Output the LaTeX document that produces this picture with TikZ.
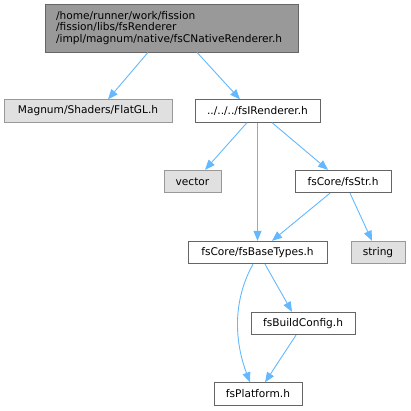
\documentclass[tikz,border=0pt]{standalone}
\usepackage{fontspec}
\setmainfont{DejaVu Sans}
\usetikzlibrary{arrows.meta}
\definecolor{edgec}{HTML}{63B8FF}
\definecolor{topfill}{HTML}{999999}
\definecolor{darkb}{HTML}{666666}
\definecolor{grayfill}{HTML}{E0E0E0}
\definecolor{grayb}{HTML}{999999}
\tikzset{
  box/.style={draw=darkb, fill=white, line width=0.8pt, inner sep=0pt, minimum height=22.5pt, font=\fontsize{10.6}{12}\selectfont, text=black},
  extbox/.style={box, draw=grayb, fill=grayfill},
  dep/.style={draw=edgec, line width=0.9pt, -{Triangle[length=10pt,width=8pt]}},
}
\begin{document}
\begin{tikzpicture}[x=1pt,y=-1pt]
\useasboundingbox (0,0) rectangle (410,411);
\node[box, fill=topfill, minimum width=253pt, minimum height=48pt, text width=231pt, align=left, font=\fontsize{10.6}{11.5}\selectfont] (top) at (171.5,28)
  {/home/runner/work/fission\\/fission/libs/fsRenderer\\/impl/magnum/native/fsCNativeRenderer.h};
\node[extbox, minimum width=168pt] (mag) at (88,111) {Magnum/Shaders/FlatGL.h};
\node[box, minimum width=125pt] (ir) at (257.5,111) {../../../fsIRenderer.h};
\node[extbox, minimum width=57pt] (vec) at (192.5,181.5) {vector};
\node[box, minimum width=96pt] (str) at (343,181.5) {fsCore/fsStr.h};
\node[box, minimum width=139pt] (base) at (257.5,252.5) {fsCore/fsBaseTypes.h};
\node[extbox, minimum width=54pt] (string) at (378,252.5) {string};
\node[box, minimum width=104pt] (build) at (303,323.5) {fsBuildConfig.h};
\node[box, minimum width=88pt] (plat) at (258,394) {fsPlatform.h};

\draw[dep] ([xshift=-23.5pt]top.south) -- ([xshift=20pt]mag.north);
\draw[dep] ([xshift=25.5pt]top.south) -- ([xshift=-17.5pt]ir.north);
\draw[dep] ([xshift=-10.5pt]ir.south) -- ([xshift=12.5pt]vec.north);
\draw[dep] (ir.south) -- (base.north);
\draw[dep] ([xshift=14.5pt]ir.south) -- ([xshift=-15pt]str.north);
\draw[dep] ([xshift=-13pt]str.south) -- ([xshift=14.5pt]base.north);
\draw[dep] ([xshift=7pt]str.south) -- ([xshift=-6pt]string.north);
\draw[dep] ([xshift=-4.5pt]base.south) .. controls (233,300) and (234,340) .. ([xshift=-8pt]plat.north);
\draw[dep] ([xshift=7.5pt]base.south) -- ([xshift=-11pt]build.north);
\draw[dep] ([xshift=-7pt]build.south) -- ([xshift=7pt]plat.north);
\end{tikzpicture}
\end{document}
